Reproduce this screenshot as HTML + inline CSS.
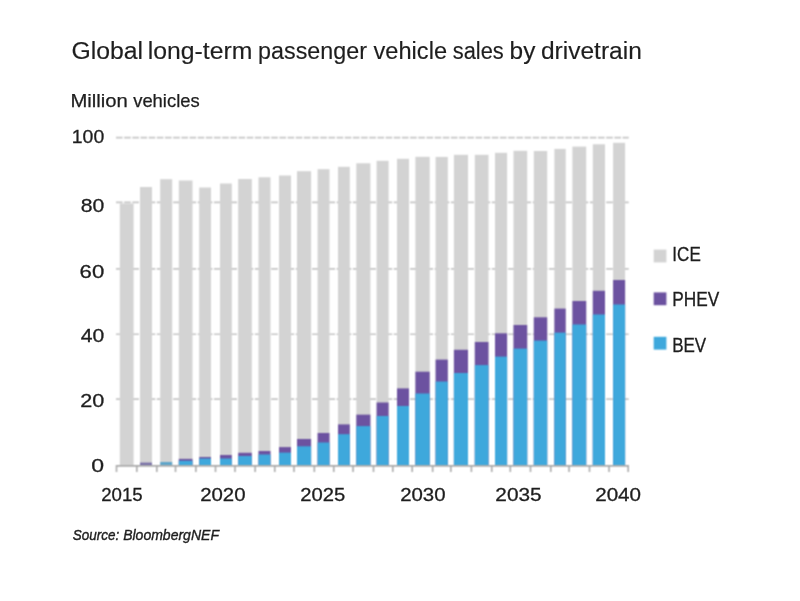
<!DOCTYPE html>
<html><head><meta charset="utf-8"><style>
html,body{margin:0;padding:0;background:#fff;}
body{width:800px;height:601px;overflow:hidden;}
svg{display:block;}
text{font-family:"Liberation Sans",sans-serif;fill:#1e1e1e;stroke:#1e1e1e;}
.tx{will-change:transform;}
.ti{font-size:23px;font-style:normal;stroke-width:0.15px;}
.st{font-size:18.5px;font-style:normal;stroke-width:0.25px;}
.ax{font-size:19px;font-style:normal;stroke-width:0.3px;}
.lg{font-size:19.5px;font-style:normal;stroke-width:0.3px;}
.so{font-size:15.5px;font-style:italic;stroke-width:0.4px;}
.so{fill:#1e1e1e;stroke:#1e1e1e;}
</style></head><body>
<svg width="800" height="601" viewBox="0 0 800 601">
<defs><filter id="bl" x="0" y="0" width="1" height="1" color-interpolation-filters="sRGB"><feConvolveMatrix order="3" kernelMatrix="1 2 1 2 4 2 1 2 1" edgeMode="duplicate"/></filter></defs>
<g filter="url(#bl)">
<rect width="800" height="601" fill="#fff"/>
<line x1="116" y1="137.6" x2="628.7" y2="137.6" stroke="#c6c6c6" stroke-width="1.6" stroke-dasharray="6.6 1.57"/>
<line x1="116" y1="202.4" x2="628.7" y2="202.4" stroke="#c6c6c6" stroke-width="1.6" stroke-dasharray="6.6 1.57"/>
<line x1="116" y1="268.9" x2="628.7" y2="268.9" stroke="#c6c6c6" stroke-width="1.6" stroke-dasharray="6.6 1.57"/>
<line x1="116" y1="334.3" x2="628.7" y2="334.3" stroke="#c6c6c6" stroke-width="1.6" stroke-dasharray="6.6 1.57"/>
<line x1="116" y1="399.1" x2="628.7" y2="399.1" stroke="#c6c6c6" stroke-width="1.6" stroke-dasharray="6.6 1.57"/>
<rect x="119.8" y="203.5" width="13.8" height="262.1" fill="#d3d3d3"/>
<rect x="119.8" y="465" width="13.8" height="0.6" fill="#6c52a0"/>
<rect x="119.8" y="465" width="13.8" height="0.6" fill="#3ea8dc"/>
<rect x="140" y="187" width="12" height="278.6" fill="#d3d3d3"/>
<rect x="140" y="462.6" width="12" height="3" fill="#7a72a8"/>
<rect x="160.2" y="179.2" width="12" height="286.4" fill="#d3d3d3"/>
<rect x="160.2" y="462" width="12" height="3.6" fill="#5fa5c9"/>
<rect x="178.8" y="180.5" width="13.7" height="285.1" fill="#d3d3d3"/>
<rect x="178.8" y="458.9" width="13.7" height="6.7" fill="#6c52a0"/>
<rect x="178.8" y="460.75" width="13.7" height="4.85" fill="#3ea8dc"/>
<rect x="199.2" y="187.5" width="11.8" height="278.1" fill="#d3d3d3"/>
<rect x="199.2" y="457" width="11.8" height="8.6" fill="#6c52a0"/>
<rect x="199.2" y="458.5" width="11.8" height="7.1" fill="#3ea8dc"/>
<rect x="220" y="183.5" width="11.8" height="282.1" fill="#d3d3d3"/>
<rect x="220" y="455" width="11.8" height="10.6" fill="#6c52a0"/>
<rect x="220" y="458.5" width="11.8" height="7.1" fill="#3ea8dc"/>
<rect x="238.2" y="179" width="13.6" height="286.6" fill="#d3d3d3"/>
<rect x="238.2" y="452.8" width="13.6" height="12.8" fill="#6c52a0"/>
<rect x="238.2" y="456" width="13.6" height="9.6" fill="#3ea8dc"/>
<rect x="258.5" y="177.3" width="12" height="288.3" fill="#d3d3d3"/>
<rect x="258.5" y="451" width="12" height="14.6" fill="#6c52a0"/>
<rect x="258.5" y="454.5" width="12" height="11.1" fill="#3ea8dc"/>
<rect x="279" y="175.5" width="12" height="290.1" fill="#d3d3d3"/>
<rect x="279" y="447.1" width="12" height="18.5" fill="#6c52a0"/>
<rect x="279" y="452.6" width="12" height="13" fill="#3ea8dc"/>
<rect x="297" y="171.2" width="14.1" height="294.4" fill="#d3d3d3"/>
<rect x="297" y="439" width="14.1" height="26.6" fill="#6c52a0"/>
<rect x="297" y="446.3" width="14.1" height="19.3" fill="#3ea8dc"/>
<rect x="317.6" y="169.2" width="11.9" height="296.4" fill="#d3d3d3"/>
<rect x="317.6" y="433" width="11.9" height="32.6" fill="#6c52a0"/>
<rect x="317.6" y="442.5" width="11.9" height="23.1" fill="#3ea8dc"/>
<rect x="338" y="166.8" width="11.8" height="298.8" fill="#d3d3d3"/>
<rect x="338" y="424.4" width="11.8" height="41.2" fill="#6c52a0"/>
<rect x="338" y="434.2" width="11.8" height="31.4" fill="#3ea8dc"/>
<rect x="356.3" y="163.3" width="14.1" height="302.3" fill="#d3d3d3"/>
<rect x="356.3" y="414.65" width="14.1" height="50.95" fill="#6c52a0"/>
<rect x="356.3" y="426.1" width="14.1" height="39.5" fill="#3ea8dc"/>
<rect x="376.6" y="160.8" width="12" height="304.8" fill="#d3d3d3"/>
<rect x="376.6" y="402.5" width="12" height="63.1" fill="#6c52a0"/>
<rect x="376.6" y="416" width="12" height="49.6" fill="#3ea8dc"/>
<rect x="397" y="158.8" width="12" height="306.8" fill="#d3d3d3"/>
<rect x="397" y="388.4" width="12" height="77.2" fill="#6c52a0"/>
<rect x="397" y="406" width="12" height="59.6" fill="#3ea8dc"/>
<rect x="415.4" y="156.8" width="14.3" height="308.8" fill="#d3d3d3"/>
<rect x="415.4" y="371.7" width="14.3" height="93.9" fill="#6c52a0"/>
<rect x="415.4" y="393.5" width="14.3" height="72.1" fill="#3ea8dc"/>
<rect x="435.6" y="156.9" width="12.2" height="308.7" fill="#d3d3d3"/>
<rect x="435.6" y="359.6" width="12.2" height="106" fill="#6c52a0"/>
<rect x="435.6" y="381.5" width="12.2" height="84.1" fill="#3ea8dc"/>
<rect x="453.9" y="154.8" width="14.1" height="310.8" fill="#d3d3d3"/>
<rect x="453.9" y="349.8" width="14.1" height="115.8" fill="#6c52a0"/>
<rect x="453.9" y="373" width="14.1" height="92.6" fill="#3ea8dc"/>
<rect x="474.8" y="154.8" width="13.7" height="310.8" fill="#d3d3d3"/>
<rect x="474.8" y="342" width="13.7" height="123.6" fill="#6c52a0"/>
<rect x="474.8" y="365.1" width="13.7" height="100.5" fill="#3ea8dc"/>
<rect x="495" y="152.8" width="12.1" height="312.8" fill="#d3d3d3"/>
<rect x="495" y="333.3" width="12.1" height="132.3" fill="#6c52a0"/>
<rect x="495" y="356.6" width="12.1" height="109" fill="#3ea8dc"/>
<rect x="513.5" y="150.8" width="13.7" height="314.8" fill="#d3d3d3"/>
<rect x="513.5" y="325" width="13.7" height="140.6" fill="#6c52a0"/>
<rect x="513.5" y="348.6" width="13.7" height="117" fill="#3ea8dc"/>
<rect x="533.8" y="151" width="13.4" height="314.6" fill="#d3d3d3"/>
<rect x="533.8" y="317.3" width="13.4" height="148.3" fill="#6c52a0"/>
<rect x="533.8" y="340.6" width="13.4" height="125" fill="#3ea8dc"/>
<rect x="554.4" y="148.9" width="11.3" height="316.7" fill="#d3d3d3"/>
<rect x="554.4" y="308.6" width="11.3" height="157" fill="#6c52a0"/>
<rect x="554.4" y="332.6" width="11.3" height="133" fill="#3ea8dc"/>
<rect x="572.4" y="146.6" width="13.8" height="319" fill="#d3d3d3"/>
<rect x="572.4" y="301" width="13.8" height="164.6" fill="#6c52a0"/>
<rect x="572.4" y="324.5" width="13.8" height="141.1" fill="#3ea8dc"/>
<rect x="592.8" y="144.3" width="12.2" height="321.3" fill="#d3d3d3"/>
<rect x="592.8" y="290.8" width="12.2" height="174.8" fill="#6c52a0"/>
<rect x="592.8" y="314.5" width="12.2" height="151.1" fill="#3ea8dc"/>
<rect x="613.1" y="142.8" width="12" height="322.8" fill="#d3d3d3"/>
<rect x="613.1" y="280" width="12" height="185.6" fill="#6c52a0"/>
<rect x="613.1" y="304.5" width="12" height="161.1" fill="#3ea8dc"/>
<line x1="116" y1="465.9" x2="629" y2="465.9" stroke="#ababab" stroke-width="1.8"/>
<line x1="116.5" y1="465" x2="116.5" y2="472" stroke="#ababab" stroke-width="1.6"/>
<line x1="136.8" y1="465" x2="136.8" y2="472" stroke="#ababab" stroke-width="1.6"/>
<line x1="156.8" y1="465" x2="156.8" y2="472" stroke="#ababab" stroke-width="1.6"/>
<line x1="175.5" y1="465" x2="175.5" y2="472" stroke="#ababab" stroke-width="1.6"/>
<line x1="195.85" y1="465" x2="195.85" y2="472" stroke="#ababab" stroke-width="1.6"/>
<line x1="215.5" y1="465" x2="215.5" y2="472" stroke="#ababab" stroke-width="1.6"/>
<line x1="235" y1="465" x2="235" y2="472" stroke="#ababab" stroke-width="1.6"/>
<line x1="255.15" y1="465" x2="255.15" y2="472" stroke="#ababab" stroke-width="1.6"/>
<line x1="274.75" y1="465" x2="274.75" y2="472" stroke="#ababab" stroke-width="1.6"/>
<line x1="294" y1="465" x2="294" y2="472" stroke="#ababab" stroke-width="1.6"/>
<line x1="314.35" y1="465" x2="314.35" y2="472" stroke="#ababab" stroke-width="1.6"/>
<line x1="333.75" y1="465" x2="333.75" y2="472" stroke="#ababab" stroke-width="1.6"/>
<line x1="353.05" y1="465" x2="353.05" y2="472" stroke="#ababab" stroke-width="1.6"/>
<line x1="373.5" y1="465" x2="373.5" y2="472" stroke="#ababab" stroke-width="1.6"/>
<line x1="392.8" y1="465" x2="392.8" y2="472" stroke="#ababab" stroke-width="1.6"/>
<line x1="412.2" y1="465" x2="412.2" y2="472" stroke="#ababab" stroke-width="1.6"/>
<line x1="432.65" y1="465" x2="432.65" y2="472" stroke="#ababab" stroke-width="1.6"/>
<line x1="450.85" y1="465" x2="450.85" y2="472" stroke="#ababab" stroke-width="1.6"/>
<line x1="471.4" y1="465" x2="471.4" y2="472" stroke="#ababab" stroke-width="1.6"/>
<line x1="491.75" y1="465" x2="491.75" y2="472" stroke="#ababab" stroke-width="1.6"/>
<line x1="510.3" y1="465" x2="510.3" y2="472" stroke="#ababab" stroke-width="1.6"/>
<line x1="530.5" y1="465" x2="530.5" y2="472" stroke="#ababab" stroke-width="1.6"/>
<line x1="550.8" y1="465" x2="550.8" y2="472" stroke="#ababab" stroke-width="1.6"/>
<line x1="569.05" y1="465" x2="569.05" y2="472" stroke="#ababab" stroke-width="1.6"/>
<line x1="589.5" y1="465" x2="589.5" y2="472" stroke="#ababab" stroke-width="1.6"/>
<line x1="609.05" y1="465" x2="609.05" y2="472" stroke="#ababab" stroke-width="1.6"/>
<line x1="628.2" y1="465" x2="628.2" y2="472" stroke="#ababab" stroke-width="1.6"/>
<rect x="653.7" y="249.6" width="12.7" height="12.8" fill="#d3d3d3"/>
<rect x="653.7" y="292.4" width="12.7" height="12.8" fill="#6c52a0"/>
<rect x="653.7" y="336.8" width="12.7" height="12.8" fill="#3ea8dc"/>
</g>
<g class="tx">
<text x="71.42" y="59.2" class="ti" textLength="71.57" lengthAdjust="spacingAndGlyphs">Global</text>
<text x="147.68" y="59.2" class="ti" textLength="104.63" lengthAdjust="spacingAndGlyphs">long-term</text>
<text x="258.08" y="59.2" class="ti" textLength="108.85" lengthAdjust="spacingAndGlyphs">passenger</text>
<text x="373.50" y="59.2" class="ti" textLength="73.58" lengthAdjust="spacingAndGlyphs">vehicle</text>
<text x="452.72" y="59.2" class="ti" textLength="51.04" lengthAdjust="spacingAndGlyphs">sales</text>
<text x="509.61" y="59.2" class="ti" textLength="25.74" lengthAdjust="spacingAndGlyphs">by</text>
<text x="540.93" y="59.2" class="ti" textLength="100.92" lengthAdjust="spacingAndGlyphs">drivetrain</text>
<text x="70.46" y="107" class="st" textLength="57.45" lengthAdjust="spacingAndGlyphs">Million</text>
<text x="133.20" y="107" class="st" textLength="66.49" lengthAdjust="spacingAndGlyphs">vehicles</text>
<text x="72.78" y="540.4" class="so" textLength="46.48" lengthAdjust="spacingAndGlyphs">Source:</text>
<text x="123.17" y="540.4" class="so" textLength="95.79" lengthAdjust="spacingAndGlyphs">BloombergNEF</text>
<text x="71.82" y="143.4" class="ax" textLength="32.39" lengthAdjust="spacingAndGlyphs">100</text>
<text x="80.66" y="212" class="ax" textLength="23.55" lengthAdjust="spacingAndGlyphs">80</text>
<text x="79.63" y="277.5" class="ax" textLength="24.62" lengthAdjust="spacingAndGlyphs">60</text>
<text x="80.72" y="341.5" class="ax" textLength="23.49" lengthAdjust="spacingAndGlyphs">40</text>
<text x="80.15" y="406.5" class="ax" textLength="24.08" lengthAdjust="spacingAndGlyphs">20</text>
<text x="91.39" y="472" class="ax" textLength="12.81" lengthAdjust="spacingAndGlyphs">0</text>
<text x="101.26" y="501.3" class="ax" textLength="41.50" lengthAdjust="spacingAndGlyphs">2015</text>
<text x="200.20" y="501.3" class="ax" textLength="45.37" lengthAdjust="spacingAndGlyphs">2020</text>
<text x="300.20" y="501.3" class="ax" textLength="45.03" lengthAdjust="spacingAndGlyphs">2025</text>
<text x="400.20" y="501.3" class="ax" textLength="45.37" lengthAdjust="spacingAndGlyphs">2030</text>
<text x="495.38" y="501.3" class="ax" textLength="46.27" lengthAdjust="spacingAndGlyphs">2035</text>
<text x="595.19" y="501.3" class="ax" textLength="45.79" lengthAdjust="spacingAndGlyphs">2040</text>
<text x="672.37" y="261.3" class="lg" textLength="28.40" lengthAdjust="spacingAndGlyphs">ICE</text>
<text x="672.37" y="306.4" class="lg" textLength="47.00" lengthAdjust="spacingAndGlyphs">PHEV</text>
<text x="672.19" y="351.8" class="lg" textLength="34.03" lengthAdjust="spacingAndGlyphs">BEV</text>
</g>
</svg>
</body></html>
